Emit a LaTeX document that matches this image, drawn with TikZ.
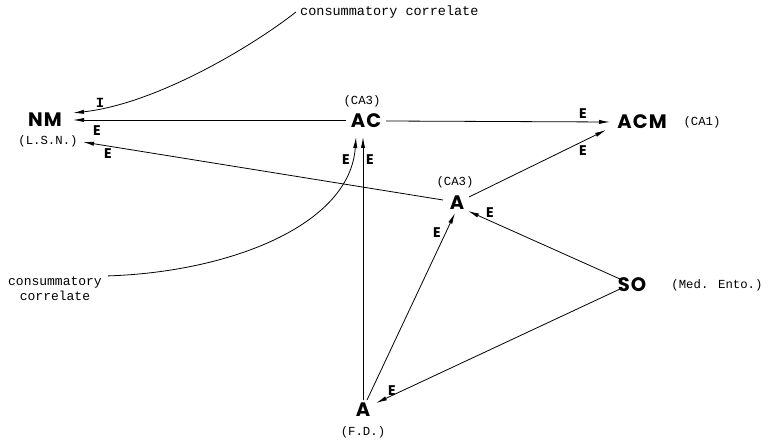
\documentclass[tikz,border=0pt]{standalone}
\usepackage{fontspec}
\setmainfont{Liberation Serif}
\newfontfamily\geofont[LetterSpace=6]{Poppins}
\newfontfamily\elfont{Poppins}
\newfontfamily\typefont{Liberation Mono}
\usetikzlibrary{arrows.meta,calc}
\begin{document}
\begin{tikzpicture}[x=1pt,y=-1pt,
  lw/.style={line width=0.8pt},
  arr/.style={lw,-{Latex[length=11pt,width=4.2pt]}},
  big/.style={inner sep=0pt,font=\geofont\bfseries\fontsize{19.5}{19.5}\selectfont},
  small/.style={inner sep=0pt,font=\typefont\fontsize{12.3}{15}\selectfont},
  elab/.style={inner sep=0pt,font=\elfont\bfseries\fontsize{14}{14}\selectfont}]
\useasboundingbox (0,0) rectangle (769,441);
% nodes
\node[big] (nm) at (45,120) {NM};
\node[small] (lsn) at (48,141) {(L.S.N.)};
\node[big] (ac) at (366,121) {AC};
\node[small] (ca3a) at (362,101) {(CA3)};
\node[big] (acm) at (642,122) {ACM};
\node[small] (ca1) at (702,122) {(CA1)};
\node[big] (a3) at (457,203) {A};
\node[small] (ca3b) at (455,182) {(CA3)};
\node[big] (so) at (632,285) {SO};
\node[small] (med) at (717,285) {(Med. Ento.)};
\node[big] (afd) at (363,410) {A};
\node[small] (fd) at (363,432) {(F.D.)};
\node[small,font=\typefont\fontsize{13.5}{15}\selectfont,anchor=west] (cc1) at (300,12) {consummatory correlate};
\node[small,align=center,font=\typefont\fontsize{13}{15}\selectfont] (cc2) at (55,289) {consummatory\\correlate};
% connectors
\draw[arr] ($(cc1.west)+(-4,0)$) .. controls ($(cc1.west)+(-50,36)$) and ($(nm)+(110,-16)$) .. ($(nm)+(28,-7)$);
\node[elab,font=\typefont\bfseries\fontsize{14}{14}\selectfont] (lI) at (100,103) {I};
\draw[arr] ($(ac)+(-20,-1)$) -- ($(nm)+(28,0)$);
\node[elab] (lE1) at (97,131) {E};
\draw[arr] ($(a3)+(-14,-3)$) -- ($(lsn)+(35,1)$);
\node[elab] (lE2) at (108,154) {E};
\draw[arr] ($(ac)+(20,0)$) -- ($(acm)+(-32,0)$);
\node[elab] (lE3) at (583,114) {E};
\draw[arr] ($(a3)+(12,-6)$) -- ($(acm)+(-36,8)$);
\node[elab] (lE4) at (583,151) {E};
\draw[arr] ($(afd)+(0,-10)$) -- ($(ac)+(-3,16)$);
\node[elab] (lE5) at (370,160) {E};
\draw[arr] ($(cc2.north east)+(6,-1)$) .. controls (230,272) and (350,225) .. ($(ac)+(-10,16)$);
\node[elab] (lE6) at (346,160) {E};
\draw[arr] ($(afd)+(4,-10)$) -- ($(a3)+(-2,10)$);
\node[elab] (lE7) at (437,233) {E};
\draw[arr] ($(so)+(-12,-6)$) -- ($(a3)+(11,8)$);
\node[elab] (lE8) at (490,213) {E};
\draw[arr] ($(so)+(-12,4)$) -- ($(afd)+(13,-7)$);
\node[elab] (lE9) at (392,391) {E};
\end{tikzpicture}
\end{document}
